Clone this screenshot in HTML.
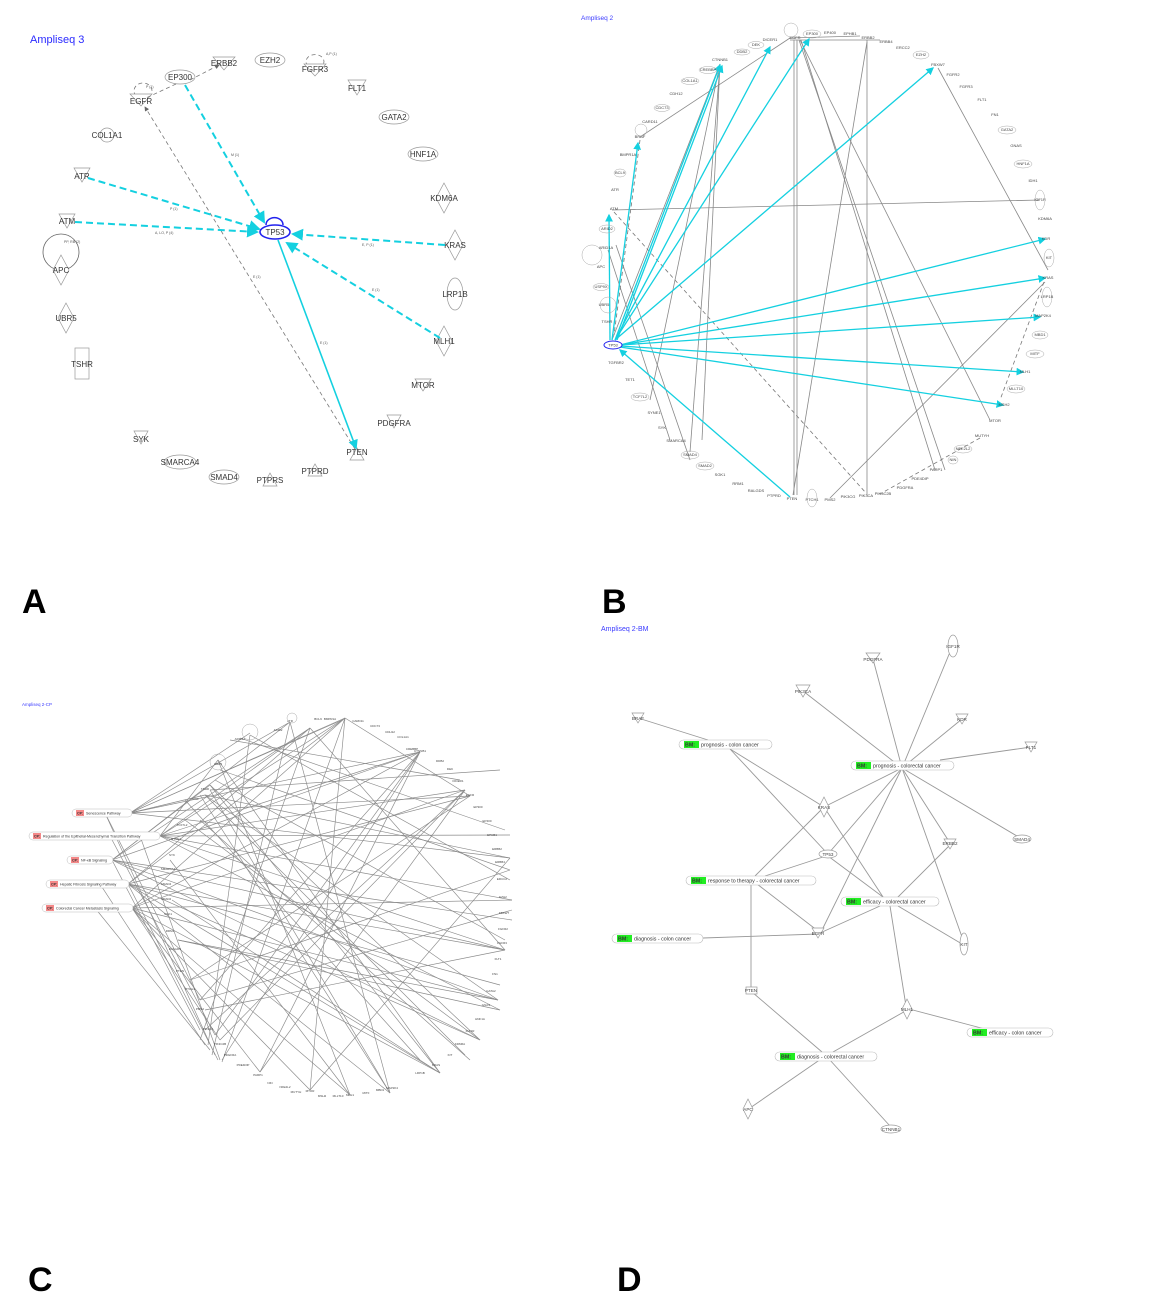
<!DOCTYPE html>
<html><head><meta charset="utf-8"><style>
html,body{margin:0;padding:0;background:#fff;}
svg{display:block;font-family:"Liberation Sans",sans-serif;}
.a{font-size:8px;fill:#333;text-anchor:middle;}
.b{font-size:4px;fill:#444;text-anchor:middle;}
.c{font-size:3px;fill:#444;text-anchor:middle;}
.d{font-size:4.6px;fill:#444;text-anchor:middle;}
.big{font-size:34px;font-weight:bold;fill:#000;}
.sh{fill:#fff;stroke:#999;stroke-width:0.7;}
.g{stroke:#888;stroke-width:0.8;fill:none;}
.gd{stroke:#777;stroke-width:0.8;fill:none;stroke-dasharray:4 3;}
.cy{stroke:#14d0e0;stroke-width:1.6;fill:none;}
.cyd{stroke:#14d0e0;stroke-width:2;fill:none;stroke-dasharray:7 4;}
.lbl{font-size:3.5px;fill:#555;}
</style></head><body>
<svg width="1163" height="1312" viewBox="0 0 1163 1312" xmlns="http://www.w3.org/2000/svg">
<defs>
<marker id="ac" markerWidth="6" markerHeight="6" refX="5" refY="3" orient="auto"><path d="M0,0 L6,3 L0,6z" fill="#14d0e0"/></marker>
<marker id="ag" markerWidth="6" markerHeight="6" refX="5" refY="3" orient="auto"><path d="M0,0 L6,3 L0,6z" fill="#666"/></marker>
</defs>

<!-- ===== Panel A ===== -->
<text x="30" y="43" style="font-size:11px;fill:#2a2aff">Ampliseq 3</text>
<g>
<polygon class="sh" points="213,57 235,57 224,70"/><text class="a" x="224" y="66">ERBB2</text>
<ellipse class="sh" cx="270" cy="60" rx="15" ry="7"/><text class="a" x="270" y="63">EZH2</text>
<path class="gd" d="M308,66 a9,7 0 1 1 14,0"/><polygon class="sh" points="304,64 326,64 315,76"/><text class="a" x="315" y="72">FGFR3</text>
<text class="lbl" x="326" y="55">A,P (1)</text>
<ellipse class="sh" cx="180" cy="77" rx="15" ry="7"/><text class="a" x="180" y="80">EP300</text>
<path class="gd" d="M136,96 a9,8 0 1 1 14,0"/><polygon class="sh" points="130,94 152,94 141,106"/><text class="a" x="141" y="104">EGFR</text>
<text class="lbl" x="146" y="88">P (1)</text>
<polygon class="sh" points="348,80 366,80 357,95"/><text class="a" x="357" y="91">FLT1</text>
<ellipse class="sh" cx="394" cy="117" rx="15" ry="7"/><text class="a" x="394" y="120">GATA2</text>
<circle class="sh" cx="107" cy="135" r="7"/><text class="a" x="107" y="138">COL1A1</text>
<ellipse class="sh" cx="423" cy="154" rx="15" ry="7"/><text class="a" x="423" y="157">HNF1A</text>
<polygon class="sh" points="74,168 90,168 82,182"/><text class="a" x="82" y="179">ATR</text>
<polygon class="sh" points="444,183 452,198 444,213 436,198"/><text class="a" x="444" y="201">KDM6A</text>
<polygon class="sh" points="59,214 75,214 67,228"/><text class="a" x="67" y="224">ATM</text>
<polygon class="sh" points="455,230 463,245 455,260 447,245"/><text class="a" x="455" y="248">KRAS</text>
<circle cx="61" cy="252" r="18" fill="none" stroke="#666" stroke-width="0.8"/>
<text class="lbl" x="64" y="243">PP, RB (2)</text>
<polygon class="sh" points="61,255 69,270 61,285 53,270"/><text class="a" x="61" y="273">APC</text>
<ellipse class="sh" cx="455" cy="294" rx="8" ry="16"/><text class="a" x="455" y="297">LRP1B</text>
<polygon class="sh" points="66,303 74,318 66,333 58,318"/><text class="a" x="66" y="321">UBR5</text>
<polygon class="sh" points="444,326 452,341 444,356 436,341"/><text class="a" x="444" y="344">MLH1</text>
<rect class="sh" x="75" y="348" width="14" height="31"/><text class="a" x="82" y="367">TSHR</text>
<polygon class="sh" points="415,379 431,379 423,391"/><text class="a" x="423" y="388">MTOR</text>
<polygon class="sh" points="387,415 401,415 394,428"/><text class="a" x="394" y="426">PDGFRA</text>
<polygon class="sh" points="134,431 148,431 141,444"/><text class="a" x="141" y="442">SYK</text>
<polygon class="sh" points="350,460 364,460 357,448"/><text class="a" x="357" y="455">PTEN</text>
<ellipse class="sh" cx="180" cy="462" rx="16" ry="7"/><text class="a" x="180" y="465">SMARCA4</text>
<polygon class="sh" points="308,476 322,476 315,464"/><text class="a" x="315" y="474">PTPRD</text>
<ellipse class="sh" cx="224" cy="477" rx="15" ry="7"/><text class="a" x="224" y="480">SMAD4</text>
<polygon class="sh" points="263,486 277,486 270,473"/><text class="a" x="270" y="483">PTPRS</text>
<line class="gd" x1="190" y1="80" x2="219" y2="65" marker-end="url(#ag)"/>
<line class="gd" x1="176" y1="84" x2="146" y2="98"/>
<line class="gd" x1="355" y1="449" x2="145" y2="107" marker-end="url(#ag)"/>
<text class="lbl" x="253" y="278">E (1)</text>
<line class="cyd" x1="185" y1="85" x2="264" y2="222" marker-end="url(#ac)"/><text class="lbl" x="231" y="156">M (1)</text>
<line class="cyd" x1="88" y1="178" x2="259" y2="229" marker-end="url(#ac)"/><text class="lbl" x="170" y="210">P (1)</text>
<line class="cyd" x1="75" y1="222" x2="257" y2="232" marker-end="url(#ac)"/><text class="lbl" x="155" y="234">A, LO, P (4)</text>
<line class="cyd" x1="445" y1="245" x2="293" y2="234" marker-end="url(#ac)"/><text class="lbl" x="362" y="246">E, P (1)</text>
<line class="cyd" x1="440" y1="338" x2="287" y2="243" marker-end="url(#ac)"/><text class="lbl" x="372" y="291">E (1)</text>
<line class="cy" x1="278" y1="240" x2="356" y2="448" marker-end="url(#ac)"/><text class="lbl" x="320" y="344">E (1)</text>
<path d="M266,225 a8,7 0 1 1 17,0" fill="none" stroke="#2222ee" stroke-width="1.5"/>
<ellipse cx="275" cy="232" rx="15" ry="7" fill="#fff" stroke="#2222ee" stroke-width="1.6"/><text class="a" x="275" y="235">TP53</text>
</g>
<text class="big" x="22" y="613">A</text>

<!-- ===== Panel B ===== -->
<text x="581" y="20" style="font-size:6.5px;fill:#3a3aff">Ampliseq 2</text>
<g>
<line class="g" x1="794" y1="40" x2="794" y2="495"/>
<line class="g" x1="797" y1="40" x2="797" y2="495"/>
<line class="g" x1="799" y1="40" x2="945" y2="470"/>
<line class="g" x1="800" y1="40" x2="990" y2="420"/>
<line class="g" x1="801" y1="40" x2="935" y2="470"/>
<line class="g" x1="867" y1="40" x2="867" y2="495"/>
<line class="g" x1="867" y1="42" x2="793" y2="495"/>
<line class="g" x1="720" y1="64" x2="690" y2="452"/>
<line class="g" x1="720" y1="64" x2="702" y2="440"/>
<line class="g" x1="720" y1="64" x2="650" y2="400"/>
<line class="g" x1="720" y1="64" x2="612" y2="340"/>
<line class="g" x1="790" y1="38" x2="640" y2="137"/>
<line class="g" x1="612" y1="210" x2="1040" y2="200"/>
<line class="gd" x1="614" y1="212" x2="866" y2="493"/>
<line class="g" x1="938" y1="68" x2="1048" y2="270"/>
<line class="g" x1="1045" y1="282" x2="830" y2="498"/>
<line class="gd" x1="1044" y1="282" x2="1000" y2="400"/>
<line class="gd" x1="980" y1="438" x2="880" y2="494"/>
<line class="g" x1="616" y1="245" x2="690" y2="460"/>
<line class="g" x1="608" y1="250" x2="670" y2="440"/>
<line class="gd" x1="640" y1="140" x2="614" y2="335"/>
<line class="g" x1="790" y1="40" x2="880" y2="40"/>
<line class="g" x1="790" y1="38" x2="860" y2="36"/>
<g stroke="#14d0e0" stroke-width="1.3" fill="none">
<line x1="615" y1="340" x2="770" y2="47" marker-end="url(#ac)"/>
<line x1="615" y1="340" x2="809" y2="39" marker-end="url(#ac)"/>
<line x1="615" y1="340" x2="933" y2="68" marker-end="url(#ac)"/>
<line x1="615" y1="340" x2="720" y2="65" marker-end="url(#ac)"/>
<line x1="617" y1="340" x2="722" y2="66" marker-end="url(#ac)"/>
<line x1="612" y1="340" x2="638" y2="143" marker-end="url(#ac)"/>
<line x1="610" y1="340" x2="609" y2="215" marker-end="url(#ac)"/>
<line x1="620" y1="345" x2="1045" y2="239" marker-end="url(#ac)"/>
<line x1="620" y1="345" x2="1045" y2="278" marker-end="url(#ac)"/>
<line x1="620" y1="345" x2="1040" y2="317" marker-end="url(#ac)"/>
<line x1="620" y1="346" x2="1023" y2="372" marker-end="url(#ac)"/>
<line x1="620" y1="347" x2="1003" y2="405" marker-end="url(#ac)"/>
<line x1="790" y1="497" x2="620" y2="350" marker-end="url(#ac)"/>
</g>
<g class="b">
<text x="770" y="41">DICER1</text><text x="756" y="46">DEK</text><text x="742" y="53">DDB2</text><text x="720" y="61">CTNNB1</text>
<text x="708" y="71">CREBBP</text><text x="690" y="82">COL1A1</text><text x="676" y="95">CDH12</text><text x="662" y="109">CDC73</text>
<text x="650" y="123">CARD11</text><text x="640" y="138">BRAF</text><text x="628" y="156">BMPR1A</text><text x="620" y="174">BCL9</text>
<text x="615" y="191">ATR</text><text x="614" y="210">ATM</text><text x="607" y="230">ARID2</text><text x="606" y="249">ARID1A</text>
<text x="601" y="268">APC</text><text x="601" y="288">USP9X</text><text x="604" y="306">UBR5</text><text x="607" y="323">TSHR</text>
<text x="616" y="364">TGFBR2</text><text x="630" y="381">TET1</text><text x="640" y="398">TCF7L2</text><text x="654" y="414">SYNE1</text>
<text x="662" y="429">SYK</text><text x="676" y="442">SMARCA4</text><text x="690" y="456">SMAD4</text><text x="705" y="467">SMAD2</text>
<text x="720" y="476">SGK1</text><text x="738" y="485">RRM1</text><text x="756" y="492">RALGDS</text><text x="774" y="497">PTPRD</text>
<text x="792" y="500">PTEN</text><text x="812" y="501">PTCH1</text><text x="830" y="501">PMS2</text><text x="848" y="498">PIK3CG</text>
<text x="866" y="497">PIK3CA</text><text x="883" y="495">PIK3C2B</text><text x="905" y="489">PDGFRA</text><text x="920" y="480">PDE4DIP</text>
<text x="936" y="471">PARP1</text><text x="953" y="461">NIN</text><text x="963" y="450">NFE2L2</text><text x="982" y="437">MUTYH</text>
<text x="995" y="422">MTOR</text><text x="1004" y="406">MSH2</text><text x="1016" y="390">MLLT10</text><text x="1025" y="373">MLH1</text>
<text x="1035" y="355">MITF</text><text x="1040" y="336">MBD1</text><text x="1043" y="317">MAP2K4</text><text x="1047" y="298">LRP1B</text>
<text x="1048" y="279">KRAS</text><text x="1049" y="259">KIT</text><text x="1046" y="240">KDR</text><text x="1045" y="220">KDM6A</text>
<text x="1040" y="201">IGF1R</text><text x="1033" y="182">IDH1</text><text x="1023" y="165">HNF1A</text><text x="1016" y="147">GNAS</text>
<text x="1007" y="131">GATA2</text><text x="995" y="116">FN1</text><text x="982" y="101">FLT1</text><text x="966" y="88">FGFR3</text>
<text x="953" y="76">FGFR2</text><text x="938" y="66">FBXW7</text><text x="921" y="56">EZH2</text><text x="903" y="49">ERCC2</text>
<text x="886" y="43">ERBB4</text><text x="868" y="39">ERBB2</text><text x="850" y="35">EPHB1</text><text x="830" y="34">EP400</text>
<text x="812" y="35">EP300</text><text x="795" y="39">EGFR</text>
</g>
<g fill="none" stroke="#aaa" stroke-width="0.5">
<ellipse cx="756" cy="45" rx="8" ry="3.5"/><ellipse cx="742" cy="52" rx="8" ry="3"/><ellipse cx="708" cy="70" rx="9" ry="3.5"/>
<ellipse cx="690" cy="81" rx="9" ry="3.5"/><ellipse cx="662" cy="108" rx="8" ry="3.5"/><ellipse cx="620" cy="173" rx="6" ry="4"/>
<ellipse cx="607" cy="229" rx="8" ry="4"/><ellipse cx="601" cy="287" rx="8" ry="3.5"/><ellipse cx="640" cy="397" rx="9" ry="4"/>
<ellipse cx="705" cy="466" rx="9" ry="4"/><ellipse cx="690" cy="455" rx="9" ry="4"/><ellipse cx="812" cy="498" rx="5" ry="9"/>
<ellipse cx="1040" cy="335" rx="8" ry="4"/><ellipse cx="1035" cy="354" rx="9" ry="4"/><ellipse cx="1047" cy="297" rx="5" ry="10"/>
<ellipse cx="1049" cy="258" rx="5" ry="9"/><ellipse cx="1040" cy="200" rx="5" ry="10"/><ellipse cx="1023" cy="164" rx="9" ry="4"/>
<ellipse cx="1007" cy="130" rx="9" ry="4"/><ellipse cx="921" cy="55" rx="8" ry="4"/><ellipse cx="812" cy="34" rx="9" ry="4"/>
<ellipse cx="1016" cy="389" rx="9" ry="4"/><ellipse cx="963" cy="449" rx="9" ry="4"/><ellipse cx="953" cy="460" rx="5" ry="4"/>
<circle cx="608" cy="305" r="8"/><circle cx="592" cy="255" r="10"/><circle cx="641" cy="130" r="6"/><circle cx="791" cy="30" r="7"/>
</g>
<ellipse cx="613" cy="345" rx="9" ry="4" fill="#fff" stroke="#2222ee" stroke-width="1"/><text class="b" x="613" y="346.5">TP53</text>
</g>
<text class="big" x="602" y="613">B</text>

<!-- ===== Panel C ===== -->
<text x="22" y="706" style="font-size:4.5px;fill:#3a3aff">Ampliseq 2-CP</text>
<g stroke="#8a8a8a" stroke-width="0.65" fill="none">
<line x1="130" y1="813" x2="290" y2="722"/><line x1="130" y1="813" x2="345" y2="718"/><line x1="130" y1="813" x2="420" y2="752"/>
<line x1="130" y1="813" x2="470" y2="796"/><line x1="130" y1="813" x2="510" y2="858"/><line x1="130" y1="813" x2="205" y2="795"/>
<line x1="160" y1="836" x2="310" y2="728"/><line x1="160" y1="836" x2="465" y2="790"/><line x1="160" y1="836" x2="512" y2="900"/>
<line x1="160" y1="836" x2="505" y2="950"/><line x1="160" y1="836" x2="345" y2="718"/><line x1="160" y1="836" x2="218" y2="760"/>
<line x1="112" y1="860" x2="290" y2="722"/><line x1="112" y1="860" x2="420" y2="752"/><line x1="112" y1="860" x2="498" y2="1000"/>
<line x1="112" y1="860" x2="480" y2="1040"/><line x1="112" y1="860" x2="210" y2="785"/><line x1="112" y1="860" x2="200" y2="1030"/>
<line x1="128" y1="884" x2="310" y2="728"/><line x1="128" y1="884" x2="470" y2="796"/><line x1="128" y1="884" x2="440" y2="1073"/>
<line x1="128" y1="884" x2="390" y2="1093"/><line x1="128" y1="884" x2="505" y2="950"/><line x1="128" y1="884" x2="218" y2="1060"/>
<line x1="132" y1="908" x2="345" y2="718"/><line x1="132" y1="908" x2="350" y2="1095"/><line x1="132" y1="908" x2="310" y2="1090"/>
<line x1="132" y1="908" x2="512" y2="900"/><line x1="132" y1="908" x2="220" y2="1040"/><line x1="132" y1="908" x2="260" y2="1072"/>
<line x1="95" y1="908" x2="210" y2="1050"/><line x1="100" y1="884" x2="205" y2="1045"/><line x1="110" y1="836" x2="215" y2="1035"/>
<line x1="105" y1="813" x2="200" y2="1000"/><line x1="140" y1="836" x2="220" y2="1060"/>
<line x1="205" y1="795" x2="510" y2="858"/><line x1="205" y1="795" x2="498" y2="1000"/><line x1="210" y1="785" x2="480" y2="1040"/>
<line x1="218" y1="760" x2="440" y2="1073"/><line x1="290" y1="722" x2="390" y2="1093"/><line x1="310" y1="728" x2="505" y2="950"/>
<line x1="345" y1="718" x2="470" y2="796"/><line x1="420" y1="752" x2="200" y2="1000"/><line x1="420" y1="752" x2="215" y2="1035"/>
<line x1="470" y1="796" x2="190" y2="980"/><line x1="465" y1="790" x2="260" y2="1072"/><line x1="510" y1="858" x2="310" y2="1090"/>
<line x1="505" y1="950" x2="205" y2="1010"/><line x1="498" y1="1000" x2="178" y2="940"/><line x1="480" y1="1040" x2="185" y2="820"/>
<line x1="440" y1="1073" x2="210" y2="785"/><line x1="390" y1="1093" x2="200" y2="795"/><line x1="350" y1="1095" x2="218" y2="760"/>
<line x1="310" y1="1090" x2="345" y2="718"/><line x1="260" y1="1072" x2="420" y2="752"/><line x1="220" y1="1040" x2="465" y2="790"/>
<line x1="200" y1="1000" x2="512" y2="910"/><line x1="190" y1="980" x2="510" y2="870"/><line x1="178" y1="940" x2="500" y2="1010"/>
<line x1="172" y1="900" x2="440" y2="1073"/><line x1="170" y1="860" x2="350" y2="1095"/><line x1="185" y1="800" x2="420" y2="1060"/>
<line x1="230" y1="740" x2="460" y2="780"/><line x1="240" y1="738" x2="505" y2="830"/><line x1="250" y1="735" x2="510" y2="880"/>
<line x1="200" y1="820" x2="470" y2="1060"/><line x1="210" y1="790" x2="500" y2="770"/>
<line x1="130" y1="813" x2="342" y2="720"/><line x1="130" y1="813" x2="250" y2="733"/><line x1="160" y1="836" x2="420" y2="752"/>
<line x1="160" y1="836" x2="500" y2="1010"/><line x1="112" y1="860" x2="310" y2="728"/><line x1="112" y1="860" x2="505" y2="950"/>
<line x1="128" y1="884" x2="345" y2="718"/><line x1="128" y1="884" x2="480" y2="1040"/><line x1="132" y1="908" x2="420" y2="752"/>
<line x1="132" y1="908" x2="465" y2="790"/><line x1="132" y1="908" x2="440" y2="1073"/><line x1="105" y1="813" x2="215" y2="1055"/>
<line x1="345" y1="718" x2="222" y2="1062"/><line x1="290" y1="722" x2="212" y2="1055"/><line x1="250" y1="735" x2="208" y2="1045"/>
<line x1="310" y1="728" x2="200" y2="1040"/><line x1="420" y1="752" x2="222" y2="1060"/><line x1="465" y1="790" x2="205" y2="1030"/>
<line x1="205" y1="795" x2="465" y2="1055"/><line x1="210" y1="790" x2="390" y2="1093"/><line x1="215" y1="780" x2="505" y2="940"/>
<line x1="220" y1="770" x2="510" y2="870"/><line x1="160" y1="836" x2="510" y2="835"/><line x1="112" y1="860" x2="512" y2="920"/>
<line x1="128" y1="884" x2="500" y2="985"/><line x1="132" y1="908" x2="498" y2="1000"/>
</g>
<g class="c">
<text x="290" y="722">ATR</text><text x="318" y="720">BCL9</text><text x="330" y="720">BMPR1A</text><text x="358" y="722">CARD11</text>
<text x="375" y="727">CDC73</text><text x="390" y="733">CDH12</text><text x="403" y="738">COL1A1</text><text x="412" y="750">CREBBP</text>
<text x="420" y="752">CTNNB1</text><text x="440" y="762">DDB2</text><text x="450" y="770">DEK</text><text x="458" y="782">DICER1</text>
<text x="470" y="796">EGFR</text><text x="478" y="808">EP300</text><text x="487" y="822">EP400</text><text x="492" y="836">EPHB1</text>
<text x="497" y="850">ERBB2</text><text x="500" y="863">ERBB4</text><text x="502" y="880">ERCC2</text><text x="503" y="898">EZH2</text>
<text x="504" y="914">FBXW7</text><text x="503" y="930">FGFR2</text><text x="502" y="944">FGFR3</text><text x="498" y="960">FLT1</text>
<text x="495" y="975">FN1</text><text x="491" y="992">GATA2</text><text x="486" y="1006">GNAS</text><text x="480" y="1020">HNF1A</text>
<text x="470" y="1032">IGF1R</text><text x="460" y="1045">KDM6A</text><text x="450" y="1056">KIT</text><text x="436" y="1066">KRAS</text>
<text x="420" y="1074">LRP1B</text><text x="392" y="1089">MAP2K4</text><text x="380" y="1091">MBD1</text><text x="366" y="1094">MITF</text>
<text x="350" y="1096">MLH1</text><text x="338" y="1097">MLLT10</text><text x="322" y="1097">MSH2</text><text x="310" y="1092">MTOR</text>
<text x="296" y="1093">MUTYH</text><text x="285" y="1088">NFE2L2</text><text x="270" y="1084">NIN</text><text x="258" y="1076">PARP1</text>
<text x="243" y="1066">PDE4DIP</text><text x="230" y="1056">PDGFRA</text><text x="220" y="1045">PIK3C2B</text><text x="208" y="1030">PIK3CA</text>
<text x="200" y="1010">PMS2</text><text x="190" y="990">PTCH1</text><text x="180" y="972">PTEN</text><text x="175" y="950">RALGDS</text>
<text x="170" y="932">RRM1</text><text x="168" y="915">SGK1</text><text x="166" y="900">SMAD2</text><text x="166" y="885">SMAD4</text>
<text x="168" y="870">SMARCA4</text><text x="172" y="856">SYK</text><text x="176" y="840">SYNE1</text><text x="182" y="826">TCF7L2</text>
<text x="195" y="800">TP53</text><text x="205" y="790">TSHR</text><text x="218" y="765">UBR5</text><text x="240" y="740">ARID1A</text><text x="278" y="731">ARID2</text>
</g>
<g fill="none" stroke="#aaa" stroke-width="0.5"><circle cx="250" cy="732" r="8"/><circle cx="218" cy="762" r="8"/><circle cx="292" cy="718" r="5"/></g>
<g style="font-size:3.6px;fill:#333">
<rect x="72" y="809" width="60" height="8" rx="4" fill="#fff" stroke="#bbb" stroke-width="0.5"/><rect x="76" y="810" width="8" height="6" fill="#f58888"/><text x="77" y="814.5" style="font-weight:bold">CP:</text><text x="86" y="814.5">Senescence Pathway</text>
<rect x="29" y="832" width="131" height="8" rx="4" fill="#fff" stroke="#bbb" stroke-width="0.5"/><rect x="33" y="833" width="8" height="6" fill="#f58888"/><text x="34" y="837.5" style="font-weight:bold">CP:</text><text x="43" y="837.5">Regulation of the Epithelial-Mesenchymal Transition Pathway</text>
<rect x="67" y="856" width="46" height="8" rx="4" fill="#fff" stroke="#bbb" stroke-width="0.5"/><rect x="71" y="857" width="8" height="6" fill="#f58888"/><text x="72" y="861.5" style="font-weight:bold">CP:</text><text x="81" y="861.5">NF-κB Signaling</text>
<rect x="46" y="880" width="83" height="8" rx="4" fill="#fff" stroke="#bbb" stroke-width="0.5"/><rect x="50" y="881" width="8" height="6" fill="#f58888"/><text x="51" y="885.5" style="font-weight:bold">CP:</text><text x="60" y="885.5">Hepatic Fibrosis Signaling Pathway</text>
<rect x="42" y="904" width="91" height="8" rx="4" fill="#fff" stroke="#bbb" stroke-width="0.5"/><rect x="46" y="905" width="8" height="6" fill="#f58888"/><text x="47" y="909.5" style="font-weight:bold">CP:</text><text x="56" y="909.5">Colorectal Cancer Metastasis Signaling</text>
</g>
<text class="big" x="28" y="1291">C</text>

<!-- ===== Panel D ===== -->
<text x="601" y="631" style="font-size:7px;fill:#3a3aff">Ampliseq 2-BM</text>
<g stroke="#999" stroke-width="0.9" fill="none">
<line x1="902" y1="768" x2="803" y2="691"/><line x1="902" y1="768" x2="873" y2="659"/><line x1="902" y1="768" x2="950" y2="652"/>
<line x1="902" y1="768" x2="962" y2="719"/><line x1="940" y1="760" x2="1031" y2="747"/><line x1="902" y1="768" x2="1022" y2="839"/>
<line x1="902" y1="768" x2="950" y2="843"/><line x1="902" y1="768" x2="824" y2="807"/><line x1="902" y1="768" x2="828" y2="854"/>
<line x1="902" y1="768" x2="822" y2="930"/><line x1="902" y1="768" x2="962" y2="937"/>
<line x1="708" y1="740" x2="638" y2="718"/><line x1="730" y1="749" x2="824" y2="807"/><line x1="730" y1="749" x2="826" y2="852"/>
<line x1="755" y1="876" x2="824" y2="807"/><line x1="765" y1="876" x2="826" y2="856"/><line x1="757" y1="884" x2="818" y2="931"/>
<line x1="751" y1="884" x2="751" y2="988"/><line x1="828" y1="856" x2="887" y2="900"/><line x1="824" y1="807" x2="885" y2="900"/>
<line x1="895" y1="900" x2="950" y2="845"/><line x1="880" y1="906" x2="820" y2="933"/><line x1="898" y1="906" x2="962" y2="944"/>
<line x1="890" y1="906" x2="906" y2="1006"/><line x1="703" y1="938" x2="818" y2="934"/>
<line x1="909" y1="1009" x2="985" y2="1029"/><line x1="909" y1="1009" x2="833" y2="1052"/><line x1="752" y1="992" x2="822" y2="1052"/>
<line x1="821" y1="1059" x2="750" y2="1108"/><line x1="829" y1="1059" x2="890" y2="1126"/>
</g>
<g>
<ellipse class="sh" cx="953" cy="646" rx="5" ry="11"/><text class="d" x="953" y="648">IGF1R</text>
<polygon class="sh" points="866,653 880,653 873,663"/><text class="d" x="873" y="661">PDGFRA</text>
<polygon class="sh" points="796,685 810,685 803,697"/><text class="d" x="803" y="693">PIK3CA</text>
<polygon class="sh" points="632,713 644,713 638,723"/><text class="d" x="638" y="720">BRAF</text>
<polygon class="sh" points="956,714 968,714 962,724"/><text class="d" x="962" y="721">KDR</text>
<polygon class="sh" points="1025,742 1037,742 1031,752"/><text class="d" x="1031" y="749">FLT1</text>
<polygon class="sh" points="824,797 829,807 824,817 819,807"/><text class="d" x="824" y="809">KRAS</text>
<ellipse class="sh" cx="1022" cy="839" rx="9" ry="4"/><text class="d" x="1022" y="841">SMAD4</text>
<polygon class="sh" points="944,839 956,839 950,849"/><text class="d" x="950" y="845">ERBB2</text>
<ellipse class="sh" cx="828" cy="854" rx="9" ry="4"/><text class="d" x="828" y="856">TP53</text>
<polygon class="sh" points="812,928 824,928 818,938"/><text class="d" x="818" y="935">EGFR</text>
<ellipse class="sh" cx="964" cy="944" rx="4" ry="11"/><text class="d" x="964" y="946">KIT</text>
<rect class="sh" x="746" y="987" width="11" height="7"/><text class="d" x="751" y="992">PTEN</text>
<polygon class="sh" points="907,999 912,1009 907,1019 902,1009"/><text class="d" x="907" y="1011">MLH1</text>
<polygon class="sh" points="748,1099 753,1109 748,1119 743,1109"/><text class="d" x="748" y="1111">APC</text>
<ellipse class="sh" cx="891" cy="1129" rx="10" ry="4"/><text class="d" x="891" y="1131">CTNNB1</text>
</g>
<g style="font-size:5.3px;fill:#333">
<rect x="679" y="740" width="93" height="9" rx="4.5" fill="#fff" stroke="#bbb" stroke-width="0.6"/><rect x="684" y="741" width="15" height="7" fill="#22ee22"/><text x="685" y="746.5" style="font-weight:bold">BM:</text><text x="701" y="746.5">prognosis - colon cancer</text>
<rect x="851" y="761" width="103" height="9" rx="4.5" fill="#fff" stroke="#bbb" stroke-width="0.6"/><rect x="856" y="762" width="15" height="7" fill="#22ee22"/><text x="857" y="767.5" style="font-weight:bold">BM:</text><text x="873" y="767.5">prognosis - colorectal cancer</text>
<rect x="686" y="876" width="130" height="9" rx="4.5" fill="#fff" stroke="#bbb" stroke-width="0.6"/><rect x="691" y="877" width="15" height="7" fill="#22ee22"/><text x="692" y="882.5" style="font-weight:bold">BM:</text><text x="708" y="882.5">response to therapy - colorectal cancer</text>
<rect x="841" y="897" width="98" height="9" rx="4.5" fill="#fff" stroke="#bbb" stroke-width="0.6"/><rect x="846" y="898" width="15" height="7" fill="#22ee22"/><text x="847" y="903.5" style="font-weight:bold">BM:</text><text x="863" y="903.5">efficacy - colorectal cancer</text>
<rect x="612" y="934" width="91" height="9" rx="4.5" fill="#fff" stroke="#bbb" stroke-width="0.6"/><rect x="617" y="935" width="15" height="7" fill="#22ee22"/><text x="618" y="940.5" style="font-weight:bold">BM:</text><text x="634" y="940.5">diagnosis - colon cancer</text>
<rect x="967" y="1028" width="86" height="9" rx="4.5" fill="#fff" stroke="#bbb" stroke-width="0.6"/><rect x="972" y="1029" width="15" height="7" fill="#22ee22"/><text x="973" y="1034.5" style="font-weight:bold">BM:</text><text x="989" y="1034.5">efficacy - colon cancer</text>
<rect x="775" y="1052" width="102" height="9" rx="4.5" fill="#fff" stroke="#bbb" stroke-width="0.6"/><rect x="780" y="1053" width="15" height="7" fill="#22ee22"/><text x="781" y="1058.5" style="font-weight:bold">BM:</text><text x="797" y="1058.5">diagnosis - colorectal cancer</text>
</g>
<text class="big" x="617" y="1291">D</text>
</svg>
</body></html>
